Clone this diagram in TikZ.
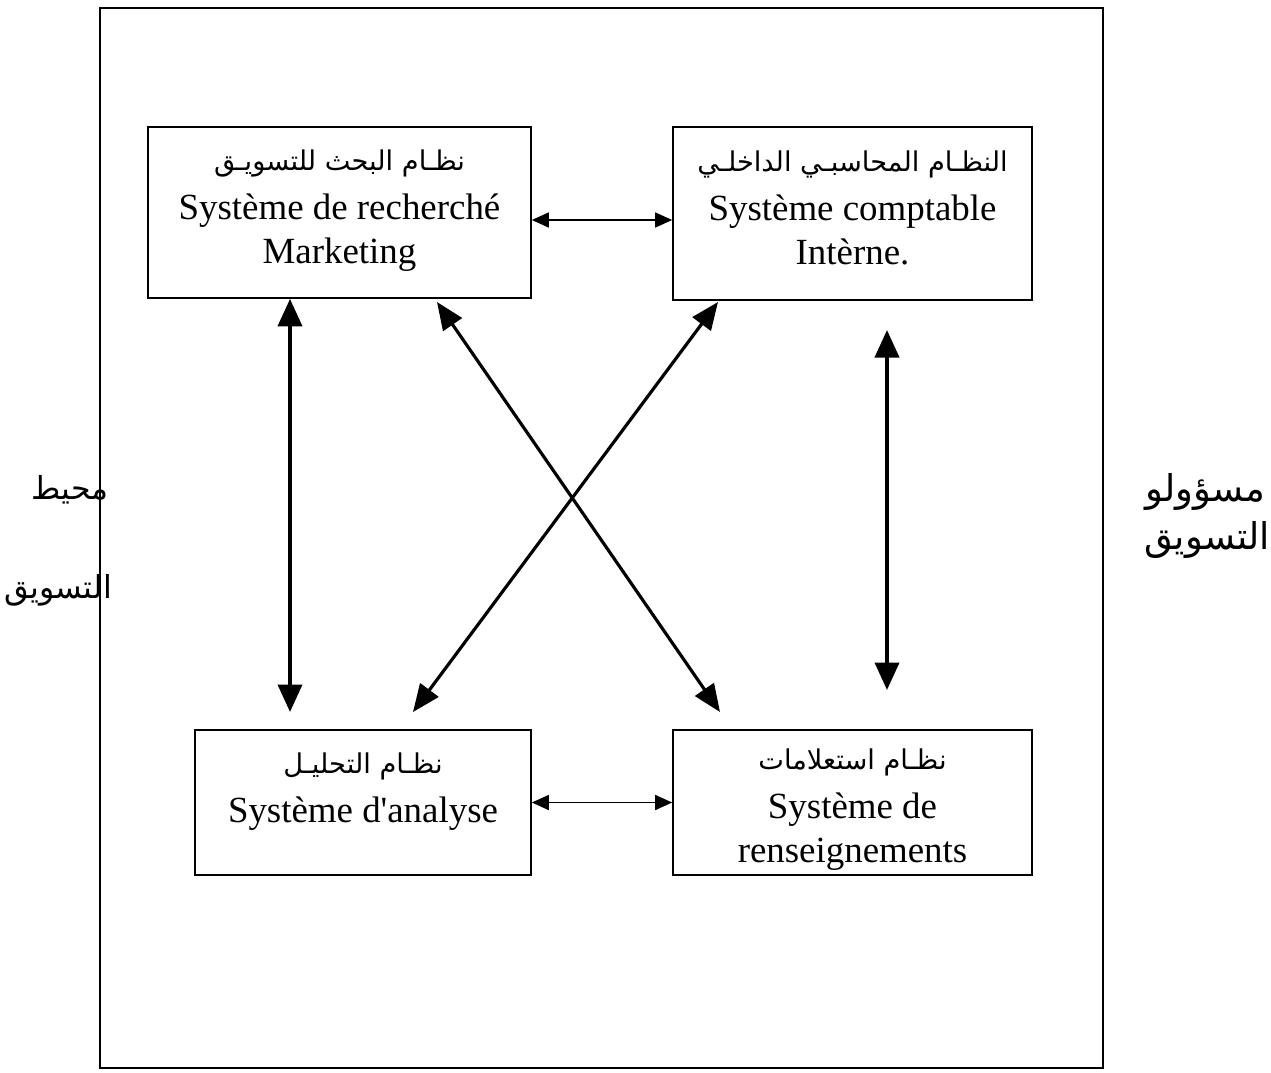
\documentclass[tikz,border=0pt]{standalone}
\usepackage{fontspec}
\setmainfont{Liberation Serif}
\newfontfamily\arabicfont[Script=Arabic]{DejaVu Sans}
\TeXXeTstate=1
\usetikzlibrary{arrows.meta}
\newcommand{\artxt}[1]{{\arabicfont\beginR #1\endR}}
\newcommand{\boxar}[1]{{\fontsize{15.5}{26}\selectfont\artxt{#1}}}

\begin{document}
\begin{tikzpicture}[
        x=0.02cm, y=-0.02cm,
        sysbox/.style={draw, line width=1pt, align=center, inner sep=0pt, font=\fontsize{21}{25}\selectfont},
        sidelabel/.style={inner sep=0pt, font=\fontsize{18}{20}\selectfont},
        smallarrow/.style={{Triangle[length=0.34cm,width=0.3cm]}-{Triangle[length=0.34cm,width=0.3cm]}, line width=1pt},
        bigarrow/.style={{Triangle[length=0.55cm,width=0.48cm]}-{Triangle[length=0.55cm,width=0.48cm]}, line width=2.2pt},
        crossarrow/.style={{Triangle[length=0.55cm,width=0.45cm]}-{Triangle[length=0.55cm,width=0.45cm]}, line width=1.8pt}
    ]
    \useasboundingbox (0,0) rectangle (1271,1072);

    % ==========================================
    % FRAME
    % ==========================================
    \draw[line width=1pt] (100,8) rectangle (1103,1068);

    % ==========================================
    % THE FOUR SUB-SYSTEMS
    % ==========================================
    \node[sysbox, minimum width=7.66cm, minimum height=3.42cm] (mr) at (339.5,212.5)
        {\boxar{نظـام البحث للتسويـق}\\[3pt]Système de recherché\\Marketing\\[-18pt]\mbox{}};
    \node[sysbox, minimum width=7.18cm, minimum height=3.46cm] (ci) at (852.5,213.5)
        {\boxar{النظـام المحاسبـي الداخلـي}\\[3pt]Système comptable\\Intèrne.\\[-18pt]\mbox{}};
    \node[sysbox, minimum width=6.72cm, minimum height=2.9cm] (an) at (363,802.5)
        {\mbox{}\\[-5pt]\boxar{نظـام التحليـل}\\[3pt]Système d\textquotesingle analyse\\ };
    \node[sysbox, minimum width=7.18cm, minimum height=2.9cm] (rs) at (852.5,802.5)
        {\mbox{}\\[-5pt]\boxar{نظـام استعلامات}\\[3pt]Système de\\renseignements};

    % side labels
    \node[sidelabel] (envA) at (70,490) {\artxt{محيط}};
    \node[sidelabel] (envB) at (58,590) {\artxt{التسويق}};
    \node[sidelabel, font=\fontsize{21}{24}\selectfont] (mgrA) at (1205,492) {\artxt{مسؤولو}};
    \node[sidelabel, font=\fontsize{21}{24}\selectfont] (mgrB) at (1207,540) {\artxt{التسويق}};

    % ==========================================
    % CONNECTIONS
    % ==========================================
    \coordinate (lvB) at (290,712);
    \coordinate (rvT) at (887,330);
    \coordinate (rvB) at (887,690);
    \coordinate (d1T) at (437,302);
    \coordinate (d1B) at (720,712);
    \coordinate (d2T) at (718,302);
    \coordinate (d2B) at (413,712);

    \draw[smallarrow] ([yshift=-0.15cm]mr.east) -- ([yshift=-0.15cm]mr.east -| ci.west);
    \draw[smallarrow] (an.east) -- (rs.west);

    \draw[bigarrow] (mr.south -| lvB) -- (lvB);
    \draw[bigarrow] (rvT) -- (rvB);

    \draw[crossarrow] (d1T) -- (d1B);
    \draw[crossarrow] (d2T) -- (d2B);

\end{tikzpicture}
\end{document}
